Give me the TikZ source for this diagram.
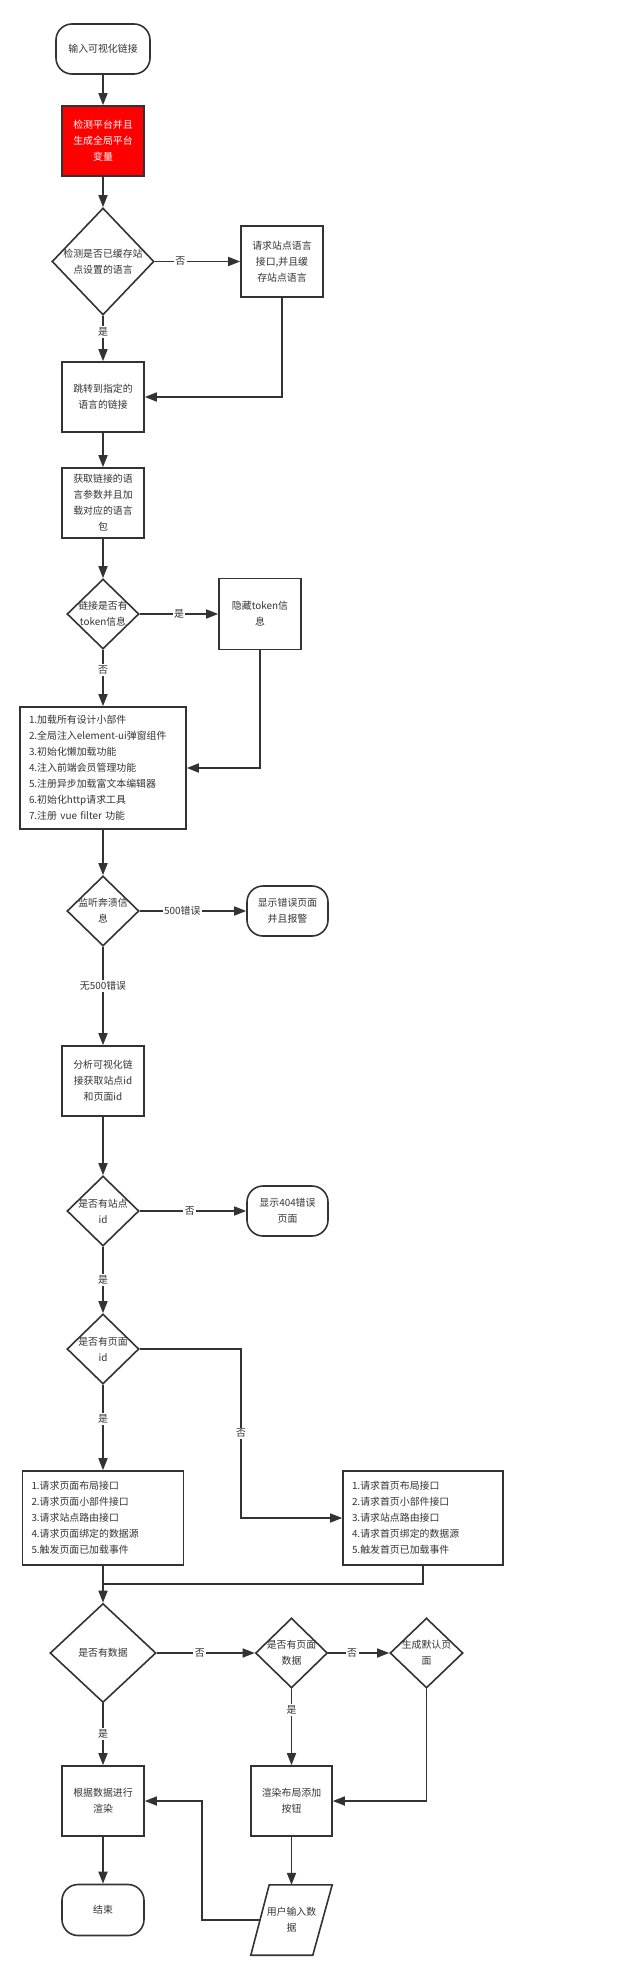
\documentclass[tikz,border=0pt]{standalone}
\usepackage{fontspec}
\setmainfont{Noto Sans CJK SC}
\usetikzlibrary{shapes.geometric,arrows.meta,calc}
\definecolor{ink}{HTML}{333333}
\begin{document}
\begin{tikzpicture}[x=1pt,y=-1pt,
  every node/.style={font=\fontsize{9.9}{16}\selectfont, text=ink},
  base/.style={draw=ink, line width=1.6pt, inner sep=0pt, align=center},
  box/.style={base, rectangle, minimum width=82pt, minimum height=70pt},
  term/.style={base, rectangle, rounded corners=16pt, minimum width=#1, minimum height=50pt},
  dia/.style n args={3}{base, diamond, minimum width=#1, minimum height=#2,
     label={[align=center]center:{#3}}},
  listbox/.style={base, rectangle, align=left, inner xsep=9pt, text width=#1, minimum height=94pt},
  line/.style={draw=ink, line width=1.6pt},
  arr/.style={line, -{Triangle[length=12pt,width=9pt]}},
  lab/.style={fill=white, inner sep=1.5pt}
]
\useasboundingbox (0,0) rectangle (644,1980);

\node[term=94pt] (start) at (103,49) {输入可视化链接};
\node[box, fill=red, text=white] (red) at (103,141) {检测平台并且\\生成全局平台\\变量};
\node[dia={102pt}{107pt}{检测是否已缓存站\\点设置的语言}] (d1) at (103,261.5) {};
\node[box, minimum height=71pt] (req) at (282,261.5) {请求站点语言\\接口,并且缓\\存站点语言};
\node[box] (jump) at (103,397) {跳转到指定的\\语言的链接};
\node[box] (getlang) at (103,503) {获取链接的语\\言参数并且加\\载对应的语言\\包};
\node[dia={72pt}{70pt}{链接是否有\\token信息}] (d2) at (103,614) {};
\node[box, minimum height=71pt] (hide) at (260,614) {隐藏token信\\息};
\node[base, rectangle, align=left, inner xsep=9pt, text width=148pt, minimum height=122pt] (init) at (103,768)
  {1.加载所有设计小部件\\2.全局注入element-ui弹窗组件\\3.初始化懒加载功能\\4.注入前端会员管理功能\\5.注册异步加载富文本编辑器\\6.初始化http请求工具\\7.注册 vue filter 功能};
\node[dia={72pt}{70pt}{监听奔溃信\\息}] (d3) at (103,911) {};
\node[term=81pt] (err500) at (287.5,911) {显示错误页面\\并且报警};
\node[box] (analyze) at (103,1081) {分析可视化链\\接获取站点id\\和页面id};
\node[dia={72pt}{70pt}{是否有站点\\id}] (d4) at (103,1211) {};
\node[term=81pt] (err404) at (287.5,1211) {显示404错误\\页面};
\node[dia={72pt}{70pt}{是否有页面\\id}] (d5) at (103,1349) {};
\node[listbox=143pt] (pagebox) at (103,1518)
  {1.请求页面布局接口\\2.请求页面小部件接口\\3.请求站点路由接口\\4.请求页面绑定的数据源\\5.触发页面已加载事件};
\node[listbox=142pt] (homebox) at (423,1518)
  {1.请求首页布局接口\\2.请求首页小部件接口\\3.请求站点路由接口\\4.请求首页绑定的数据源\\5.触发首页已加载事件};
\node[dia={106pt}{99pt}{是否有数据}] (d6) at (103,1653) {};
\node[dia={72pt}{70pt}{是否有页面\\数据}] (d7) at (291.5,1653) {};
\node[dia={73pt}{70pt}{生成默认页\\面}] (d8) at (426.5,1653) {};
\node[box] (render) at (103,1801) {根据数据进行\\渲染};
\node[box, minimum width=81pt] (layout) at (291.5,1801) {渲染布局添加\\按钮};
\node[term=82pt, minimum height=51pt] (end) at (103,1910) {结束};
\node[inner sep=0pt, minimum width=81pt, minimum height=70pt, align=center] (input) at (291.5,1920) {用户输入数\\据};
\draw[line] (input.south west) -- ++(62,0) -- (input.north east) -- ++(-63,0) -- cycle;

\draw[arr] (start) -- (red);
\draw[arr] (red) -- (d1);
\draw[arr] (d1) -- node[lab,pos=0.3]{否} (req);
\draw[arr] (d1) -- node[lab,pos=0.35]{是} (jump);
\draw[arr] (req.south) |- (jump.east);
\draw[arr] (jump) -- (getlang);
\draw[arr] (getlang) -- (d2);
\draw[arr] (d2) -- node[lab]{是} (hide);
\draw[arr] (d2) -- node[lab,pos=0.36]{否} (init);
\draw[arr] (hide.south) |- (init.east);
\draw[arr] (init) -- (d3);
\draw[arr] (d3) -- node[lab,pos=0.4]{500错误} (err500);
\draw[arr] (d3) -- node[lab,pos=0.4]{无500错误} (analyze);
\draw[arr] (analyze) -- (d4);
\draw[arr] (d4) -- node[lab,pos=0.47]{否} (err404);
\draw[arr] (d4) -- node[lab]{是} (d5);
\coordinate (k1) at (241,1349);
\draw[arr] (d5.east) -- (k1) |- node[lab,pos=0.25]{否} (homebox.west);
\draw[arr] (d5) -- node[lab,pos=0.4]{是} (pagebox);
\coordinate (k3) at (103,1584);
\draw[line] (homebox.south) |- (k3);
\draw[arr] (pagebox) -- (d6);
\draw[arr] (d6) -- node[lab,pos=0.44]{否} (d7);
\draw[arr] (d7) -- node[lab,pos=0.39]{否} (d8);
\draw[arr] (d6) -- node[lab]{是} (render);
\draw[arr] (d7) -- node[lab,pos=0.28]{是} (layout);
\draw[arr] (d8.south) |- (layout.east);
\draw[arr] (render) -- (end);
\draw[arr] (layout) -- (input);
\coordinate (inL) at ($(input.west)+(9,0)$);
\coordinate (k2) at (202,1920);
\draw[arr] (inL) -- (k2) |- (render.east);
\end{tikzpicture}
\end{document}
